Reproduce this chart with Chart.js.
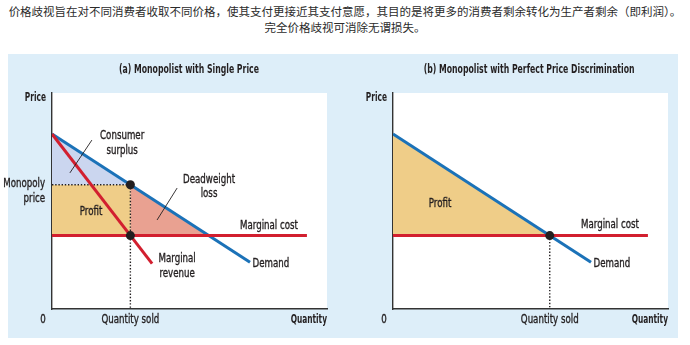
<!DOCTYPE html>
<html lang="zh">
<head>
<meta charset="UTF-8">
<title>Monopolist price discrimination</title>
<script src="https://cdn.jsdelivr.net/npm/chart.js"></script>
<style>
  body { margin: 0; width: 690px; height: 345px; background: #fff; position: relative; overflow: hidden; }
  #intro { position: absolute; left: 0; top: 4px; width: 690px; text-align: center;
           font: 11.5px/15.5px "Noto Sans CJK SC", sans-serif; color: #2b2b2b; }
  #panel { position: absolute; left: 8px; top: 54px; width: 670px; height: 284px; background: #ddeef9; }
  .box { position: absolute; top: 54px; height: 284px; }
</style>
</head>
<body>
<div id="intro">价格歧视旨在对不同消费者收取不同价格，使其支付更接近其支付意愿，其目的是将更多的消费者剩余转化为生产者剩余（即利润）。<br>完全价格歧视可消除无谓损失。</div>
<div id="panel"></div>
<div class="box" style="left:0px;width:345px"><canvas id="chartA" width="345" height="284"></canvas></div>
<div class="box" style="left:345px;width:333px"><canvas id="chartB" width="333" height="284"></canvas></div>

<script>
// curves (quantity 0-100, price 0-100)
const demandPoints = [{x: 0, y: 81}, {x: 72, y: 21.6}];
const mrPoints = [{x: 0, y: 81}, {x: 36.4, y: 21}];
const mcPoints = [{x: 0, y: 34}, {x: 92.7, y: 34}];
const demandTop = 81;
const marginalCost = 34;
const monopolyQty = 28.5;
const monopolyPrice = 57.5;
const competitiveQty = 57;

const BLUE = '#1b72b8', RED = '#d21f2f', INK = '#231f20';
const FONT = '"DejaVu Sans Condensed", sans-serif';

function shape(points, color) {
    return { data: points, showLine: true, fill: 'shape', backgroundColor: color,
             borderWidth: 0, pointRadius: 0, order: 5 };
}
function curve(points, color) {
    return { data: points, showLine: true, borderColor: color, borderWidth: 3,
             pointRadius: 0, fill: false, order: 3 };
}
function dotted(points) {
    return { data: points, showLine: true, borderColor: INK, borderWidth: 1.4,
             borderDash: [1.4, 1.8], pointRadius: 0, fill: false, order: 4 };
}
function dots(points) {
    return { data: points, showLine: false, pointRadius: 4.5, pointBackgroundColor: INK,
             pointBorderWidth: 0, order: 1 };
}

// text labels in data coordinates
const labelsA = [
    { t: '(a) Monopolist with Single Price', x: 49.8, y: 110.6, bold: true, title: true },
    { t: 'Price', x: -2.2, y: 98, bold: true, align: 'right' },
    { t: 'Consumer', x: 25.5, y: 80.1 },
    { t: 'surplus', x: 25.5, y: 73.1 },
    { t: 'Deadweight', x: 57.1, y: 59.7 },
    { t: 'loss', x: 57.1, y: 53.2 },
    { t: 'Profit', x: 14.2, y: 44.9 },
    { t: 'Marginal cost', x: 78.9, y: 38.4 },
    { t: 'Marginal', x: 45.5, y: 23.1 },
    { t: 'revenue', x: 45.5, y: 16.2 },
    { t: 'Demand', x: 79.6, y: 20.8 },
    { t: 'Monopoly', x: -2.5, y: 57.9, align: 'right' },
    { t: 'price', x: -2.5, y: 50.9, align: 'right' },
    { t: '0', x: -3.3, y: -5.1 },
    { t: 'Quantity sold', x: monopolyQty, y: -5.1 },
    { t: 'Quantity', x: 100, y: -5.1, bold: true, align: 'right' }
];
const pointersA = [
    [{x: 14.5, y: 78.2}, {x: 6.5, y: 63}],
    [{x: 45.5, y: 56}, {x: 38.2, y: 41.2}]
];
const labelsB = [
    { t: '(b) Monopolist with Perfect Price Discrimination', x: 49.5, y: 110.6, bold: true, title: true },
    { t: 'Price', x: -2.2, y: 98, bold: true, align: 'right' },
    { t: 'Profit', x: 17.1, y: 48.6 },
    { t: 'Marginal cost', x: 78.9, y: 38.9 },
    { t: 'Demand', x: 79.6, y: 20.8 },
    { t: '0', x: -3.3, y: -5.1 },
    { t: 'Quantity sold', x: competitiveQty, y: -5.1 },
    { t: 'Quantity', x: 100, y: -5.1, bold: true, align: 'right' }
];

const decor = {
    id: 'decor',
    beforeDraw(chart) {
        const a = chart.chartArea, c = chart.ctx;
        c.save();
        c.fillStyle = '#fff';
        c.fillRect(a.left, a.top, a.right - a.left, a.bottom - a.top);
        c.restore();
    },
    afterDraw(chart) {
        const o = chart.options.plugins.decor, c = chart.ctx;
        const xs = chart.scales.x, ys = chart.scales.y;
        c.save();
        c.strokeStyle = INK;
        c.lineWidth = 0.9;
        (o.pointers || []).forEach(p => {
            c.beginPath();
            c.moveTo(xs.getPixelForValue(p[0].x), ys.getPixelForValue(p[0].y));
            c.lineTo(xs.getPixelForValue(p[1].x), ys.getPixelForValue(p[1].y));
            c.stroke();
        });
        c.fillStyle = INK;
        c.textBaseline = 'middle';
        o.labels.forEach(l => {
            // condensed look: squeeze the glyphs horizontally
            const squeeze = l.title ? 0.75 : (l.bold ? 0.66 : 0.77);
            c.save();
            c.font = l.title ? 'bold 11.5px ' + FONT : (l.bold ? 'bold 12.5px ' : '12.5px ') + FONT;
            c.textAlign = l.align || 'center';
            c.translate(xs.getPixelForValue(l.x), ys.getPixelForValue(l.y));
            c.scale(squeeze, 1);
            c.fillText(l.t, 0, 0);
            if (!l.bold) {
                c.lineWidth = 0.35;
                c.strokeText(l.t, 0, 0);
            }
            c.restore();
        });
        c.restore();
    }
};

function options(labels, pointers, padLeft, padRight) {
    return {
        animation: false,
        responsive: false,
        events: [],
        layout: { padding: { left: padLeft, top: 39, right: padRight, bottom: 29 } },
        plugins: { legend: { display: false }, tooltip: { enabled: false },
                   decor: { labels: labels, pointers: pointers } },
        scales: {
            x: { type: 'linear', min: 0, max: 100,
                 ticks: { display: false }, grid: { display: false, drawTicks: false },
                 border: { display: true, color: '#333', width: 1.4 } },
            y: { type: 'linear', min: 0, max: 100,
                 ticks: { display: false }, grid: { display: false, drawTicks: false },
                 border: { display: true, color: '#333', width: 1.4 } }
        }
    };
}

new Chart(document.getElementById('chartA'), {
    type: 'scatter',
    data: { datasets: [
        shape([{x: 0, y: demandTop}, {x: monopolyQty, y: monopolyPrice}, {x: 0, y: monopolyPrice}, {x: 0, y: demandTop}], '#cbd6ef'),
        shape([{x: 0, y: monopolyPrice}, {x: monopolyQty, y: monopolyPrice}, {x: monopolyQty, y: marginalCost}, {x: 0, y: marginalCost}, {x: 0, y: monopolyPrice}], '#efcd88'),
        shape([{x: monopolyQty, y: monopolyPrice}, {x: competitiveQty, y: marginalCost}, {x: monopolyQty, y: marginalCost}, {x: monopolyQty, y: monopolyPrice}], '#e9a191'),
        dotted([{x: 0, y: monopolyPrice}, {x: monopolyQty, y: monopolyPrice}]),
        dotted([{x: monopolyQty, y: monopolyPrice}, {x: monopolyQty, y: 0}]),
        curve(mcPoints, RED),
        curve(mrPoints, RED),
        curve(demandPoints, BLUE),
        dots([{x: monopolyQty, y: monopolyPrice}, {x: monopolyQty, y: marginalCost}])
    ] },
    options: options(labelsA, pointersA, 52, 18),
    plugins: [decor]
});

new Chart(document.getElementById('chartB'), {
    type: 'scatter',
    data: { datasets: [
        shape([{x: 0, y: demandTop}, {x: competitiveQty, y: marginalCost}, {x: 0, y: marginalCost}, {x: 0, y: demandTop}], '#efcd88'),
        dotted([{x: competitiveQty, y: marginalCost}, {x: competitiveQty, y: 0}]),
        curve(mcPoints, RED),
        curve(demandPoints, BLUE),
        dots([{x: competitiveQty, y: marginalCost}])
    ] },
    options: options(labelsB, [], 48, 10),
    plugins: [decor]
});
</script>
</body>
</html>
